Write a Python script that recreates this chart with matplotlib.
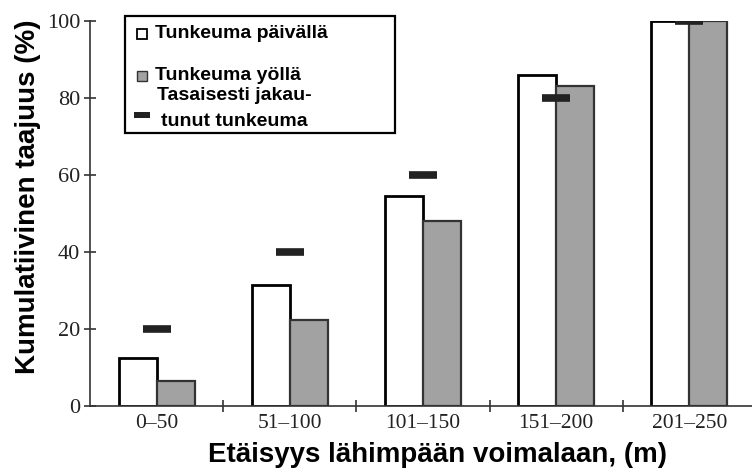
import matplotlib.pyplot as plt
from matplotlib.patches import Rectangle
import numpy as np

categories = ['0–50', '51–100', '101–150', '151–200', '201–250']
day = [12.5, 31.5, 54.5, 86, 100]
night = [6.5, 22.3, 48, 83.2, 100]
uniform = [20, 40, 60, 80, 100]
legend_labels = ['Tunkeuma päivällä', 'Tunkeuma yöllä', 'Tasaisesti jakau-', 'tunut tunkeuma']

W, H = 752, 468
fig = plt.figure(figsize=(W / 100, H / 100), dpi=100)
ax = fig.add_axes([90 / W, 62 / H, 666 / W, 385 / H])

def fx(px):
    return px / W

def fy(py):
    return 1 - py / H

x = np.arange(len(categories))
w = 0.285
gray = '#a2a2a2'
ax.bar(x - w / 2, day, w, color='white', edgecolor='black', linewidth=2, zorder=2)
ax.bar(x + w / 2, night, w, color=gray, edgecolor='#333333', linewidth=1.6, zorder=2)
ax.plot(x, uniform, linestyle='none', marker='_', markersize=20, mew=5.5,
        color='#222222', zorder=3)

ax.set_xlim(-0.5, 4.5)
ax.set_ylim(0, 100)
ax.set_yticks([0, 20, 40, 60, 80, 100])
ax.set_xticks(x + 0.5)
ax.set_xticklabels([])
ax.set_xticks(x, minor=True)
ax.set_xticklabels(categories, minor=True)
ax.tick_params(axis='x', which='major', direction='inout', length=8, width=1.2, color='#333333')
ax.tick_params(axis='x', which='minor', length=0, pad=5.5)
ax.tick_params(axis='y', direction='inout', length=8, width=1.2, color='#333333', pad=3)
for lab in ax.get_xticklabels(minor=True):
    lab.set_fontfamily('Liberation Serif')
    lab.set_fontsize(15.5)
    lab.set_color('#222222')
for lab in ax.get_yticklabels():
    lab.set_fontfamily('Liberation Serif')
    lab.set_fontsize(16)
    lab.set_color('#222222')

ax.spines['top'].set_visible(False)
ax.spines['right'].set_visible(False)
for s in ['left', 'bottom']:
    ax.spines[s].set_color('#333333')
    ax.spines[s].set_linewidth(1.2)

ax.set_ylabel('Kumulatiivinen taajuus (%)', fontfamily='Liberation Sans',
              fontweight='bold', fontsize=20, va='center')
ax.yaxis.set_label_coords(-0.093, 0.543)
ax.set_xlabel('Etäisyys lähimpään voimalaan, (m)', fontfamily='Liberation Sans',
              fontweight='bold', fontsize=20, va='baseline')
ax.xaxis.set_label_coords(0.5225, -(462 - 406) / 385)

# legend box drawn by hand
fig.add_artist(Rectangle((fx(125), fy(133)), fx(395) - fx(125), fy(16) - fy(133),
                         transform=fig.transFigure, facecolor='white', edgecolor='black',
                         linewidth=1.6, zorder=5))
sq = 10
fig.add_artist(Rectangle((fx(137), fy(34 + sq / 2)), sq / W, sq / H, transform=fig.transFigure,
                         facecolor='white', edgecolor='black', linewidth=1.3, zorder=6))
fig.add_artist(Rectangle((fx(137), fy(76 + sq / 2)), sq / W, sq / H, transform=fig.transFigure,
                         facecolor=gray, edgecolor='#333333', linewidth=1.0, zorder=6))
fig.add_artist(Rectangle((fx(134), fy(118)), 16 / W, 6 / H, transform=fig.transFigure,
                         facecolor='#222222', edgecolor='none', zorder=6))
tkw = dict(fontfamily='Liberation Sans', fontweight='bold', fontsize=14, va='center',
           ha='left', zorder=7)
fig.text(fx(155), fy(34), legend_labels[0], **tkw)
fig.text(fx(155), fy(75), legend_labels[1], **tkw)
fig.text(fx(157), fy(95), legend_labels[2], **tkw)
fig.text(fx(161), fy(121), legend_labels[3], **tkw)

fig.savefig('out.png', dpi=100)
